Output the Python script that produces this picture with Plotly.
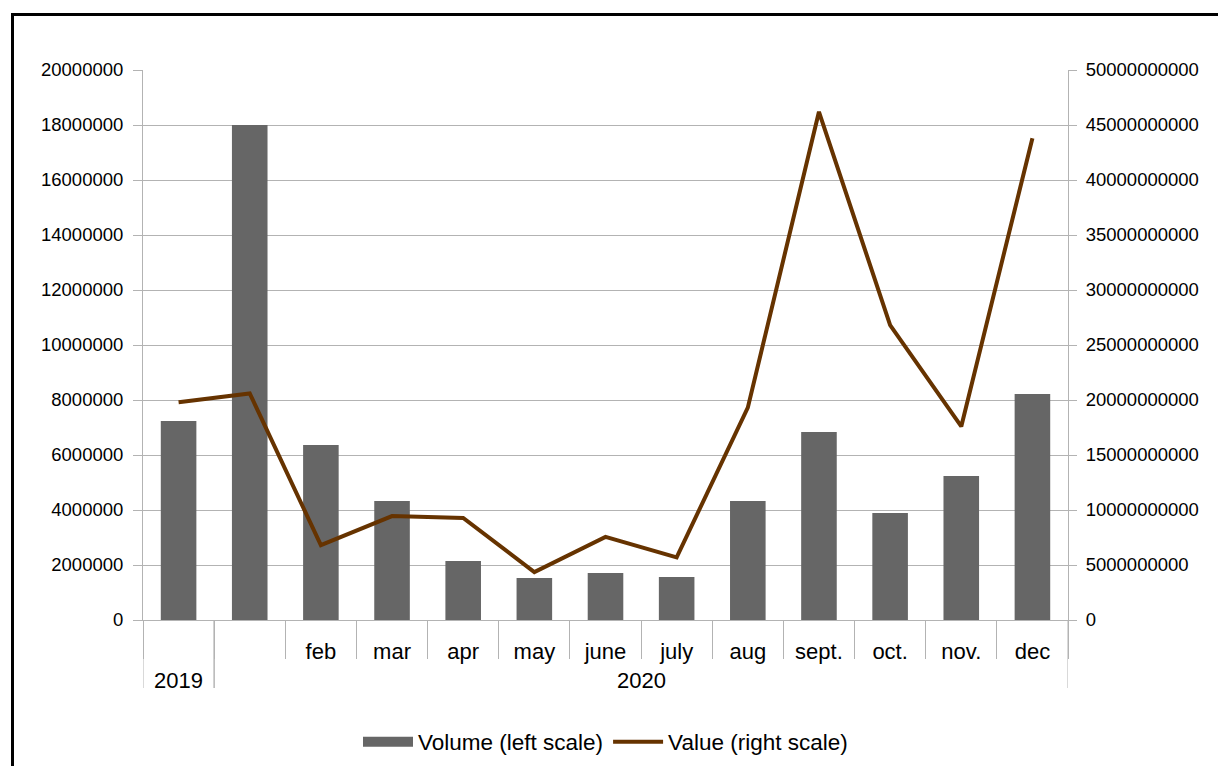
import plotly.graph_objects as go

years = ["2019", "2020", "2020", "2020", "2020", "2020", "2020", "2020", "2020", "2020", "2020", "2020", "2020"]
months = [" ", "  ", "feb", "mar", "apr", "may", "june", "july", "aug", "sept.", "oct.", "nov.", "dec"]
volume = [7240000, 18000000, 6360000, 4330000, 2150000, 1530000, 1710000, 1560000, 4330000, 6840000, 3890000, 5240000, 8220000]
value = [19800000000, 20600000000, 6800000000, 9450000000, 9270000000, 4360000000, 7550000000, 5700000000,
         19300000000, 46200000000, 26800000000, 17600000000, 43800000000]
left_ticks = list(range(0, 20000001, 2000000))
right_ticks = list(range(0, 50000000001, 5000000000))

OFF = 8  # page body margin
W, H = 1226 - OFF, 766 - OFF
L, R, T, B = 143 - OFF, 1068 - OFF, 70 - OFF, 620 - OFF
PH = B - T

fam = "Liberation Sans, Arial, sans-serif"
yfont = dict(family=fam, size=18.5, color="#000000")
xfont = dict(family=fam, size=22, color="#000000")
lfont = dict(family=fam, size=22.5, color="#000000")
grid = "#b3b3b3"

fig = go.Figure()
fig.add_trace(go.Bar(x=months, y=volume, name="Volume (left scale)", showlegend=False,
                     marker=dict(color="#666666", line=dict(width=0)), yaxis="y"))
fig.add_trace(go.Scatter(x=months[:1], y=[None], name="Volume (left scale)", mode="lines",
                         line=dict(color="#666666", width=12), yaxis="y", hoverinfo="skip"))
fig.add_trace(go.Scatter(x=months, y=value, name="Value (right scale)", mode="lines",
                         line=dict(color="#663300", width=4), yaxis="y2"))

# year groups -> labels and dividers
groups = []
for i, yv in enumerate(years):
    if groups and groups[-1][0] == yv:
        groups[-1][2] = i
    else:
        groups.append([yv, i, i])

annotations = []
shapes = []
div_y = -(688 - OFF - B) / PH
for name, i0, i1 in groups:
    annotations.append(dict(text=name, x=(i0 + i1) / 2, xref="x", y=-(680 - OFF - B) / PH, yref="paper",
                            showarrow=False, font=xfont, xanchor="center", yanchor="middle"))
    for xb in (i0 - 0.5, i1 + 0.5):
        shapes.append(dict(type="line", xref="x", yref="paper", x0=xb, x1=xb, y0=0, y1=div_y,
                           line=dict(color=grid, width=1)))

shapes.append(dict(type="rect", xref="paper", yref="paper",
                   x0=(12.5 - OFF - L) / (R - L), x1=(1240 - L) / (R - L),
                   y0=(B - 780) / PH, y1=(B - (14.5 - OFF)) / PH,
                   line=dict(color="black", width=3), fillcolor="rgba(0,0,0,0)", layer="below"))

fig.update_layout(
    width=W, height=H,
    margin=dict(l=L, r=W - R, t=T, b=H - B, pad=0, autoexpand=False),
    paper_bgcolor="white", plot_bgcolor="white",
    font=yfont,
    bargap=0.5,
    showlegend=True,
    legend=dict(orientation="h", x=0.5, xanchor="center", y=-(742 - OFF - B) / PH, yanchor="middle",
                font=lfont, itemwidth=50),
    xaxis=dict(type="category", showline=True, linecolor=grid, linewidth=1,
               ticks="outside", tickson="boundaries", ticklen=38, tickcolor=grid,
               showgrid=False, tickfont=xfont, ticklabelstandoff=12, automargin=False,
               range=[-0.5, len(months) - 0.5]),
    yaxis=dict(range=[0, 20000000], tickvals=left_ticks, tickformat="d", showgrid=True,
               gridcolor=grid, gridwidth=1, showline=True, linecolor=grid,
               ticks="outside", ticklen=9, tickcolor=grid, tickfont=yfont, zeroline=False,
               automargin=False, ticklabelstandoff=6),
    yaxis2=dict(range=[0, 50000000000], tickvals=right_ticks, tickformat="d", overlaying="y", side="right",
                showgrid=False, showline=True, linecolor=grid, ticks="outside", ticklen=8,
                tickcolor=grid, tickfont=yfont, zeroline=False, automargin=False, ticklabelstandoff=5),
    annotations=annotations,
    shapes=shapes,
)

fig.write_html("out.html")
